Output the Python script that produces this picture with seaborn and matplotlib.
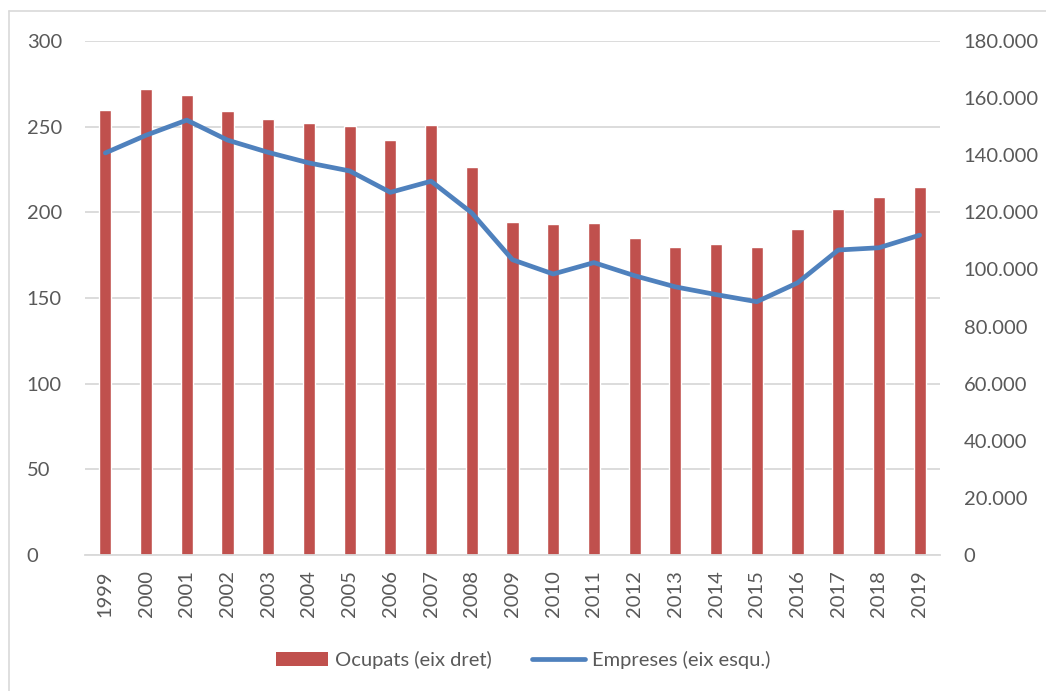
import numpy as np
import pandas as pd
import seaborn as sns
import matplotlib.pyplot as plt
from matplotlib.lines import Line2D
from matplotlib.patches import Patch
from matplotlib.ticker import FuncFormatter

years = [str(y) for y in range(1999, 2020)]
ocupats = [259.6, 271.8, 268.5, 259.0, 254.7, 252.4, 250.4, 242.5, 251.2, 226.7,
           194.3, 192.9, 193.8, 185.3, 180.0, 181.4, 180.0, 190.0, 202.2, 208.8, 215.0]
empreses = [140800, 147000, 152300, 145300, 141000, 137300, 134500, 127000, 130900, 119800,
            103400, 98400, 102400, 97800, 93900, 91200, 88700, 95300, 106800, 107600, 112000]

bar_color = '#C0504D'
line_color = '#4F81BD'
text_color = '#595959'
grid_color = '#D9D9D9'
fs = 14.5

sns.set_style('white')
plt.rcParams['font.family'] = ['Lato', 'DejaVu Sans']

df = pd.DataFrame({'year': years, 'ocupats': ocupats, 'empreses': empreses})
df['pos'] = np.arange(len(df))

fig = plt.figure(figsize=(10.46, 6.91), dpi=100)
ax = fig.add_axes([85 / 1046, 1 - 555 / 691, (940 - 85) / 1046, (555 - 41) / 691])

sns.barplot(data=df, x='year', y='ocupats', color=bar_color, saturation=1,
            width=0.3, ax=ax, zorder=2)
ax.set_ylim(0, 300)
ax.set_yticks(range(0, 301, 50))
ax.set_xlim(-0.5, len(years) - 0.5)
ax.yaxis.grid(True, color=grid_color, linewidth=1.3, zorder=0)
ax.set_axisbelow(True)
for s in ['top', 'left', 'right']:
    ax.spines[s].set_visible(False)
ax.spines['bottom'].set_color(grid_color)
ax.spines['bottom'].set_linewidth(1.3)
ax.set_xlabel('')
ax.set_ylabel('')
ax.tick_params(axis='x', rotation=90, labelsize=fs, colors=text_color, length=0, pad=11)
ax.tick_params(axis='y', labelsize=fs, colors=text_color, length=0, pad=42)
for lbl in ax.get_yticklabels():
    lbl.set_horizontalalignment('left')

ax2 = ax.twinx()
sns.lineplot(data=df, x='pos', y='empreses', color=line_color, linewidth=3.4, ax=ax2,
             solid_joinstyle='round', solid_capstyle='round')
ax2.set_ylim(0, 180000)
ax2.set_yticks(range(0, 180001, 20000))
ax2.yaxis.set_major_formatter(FuncFormatter(lambda v, p: f'{int(v):,}'.replace(',', '.')))
ax2.set_xlim(-0.5, len(years) - 0.5)
for s in ax2.spines.values():
    s.set_visible(False)
ax2.set_ylabel('')
ax2.set_xlabel('')
ax2.tick_params(axis='y', labelsize=fs, colors=text_color, length=0, pad=17)

handles = [Patch(facecolor=bar_color, edgecolor='none'),
           Line2D([0], [0], color=line_color, linewidth=3.4)]
fig.legend(handles, ['Ocupats (eix dret)', 'Empreses (eix esqu.)'], loc='center',
           bbox_to_anchor=(0.5, 1 - 660 / 691), ncol=2, frameon=False, fontsize=fs,
           labelcolor=text_color, handlelength=2.6, handletextpad=0.35, columnspacing=2.0)

# chart border
fig.add_artist(Line2D([8.5 / 1046, 8.5 / 1046], [1 - 11 / 691, 0], color=grid_color,
                      linewidth=1.2, transform=fig.transFigure))
fig.add_artist(Line2D([8.5 / 1046, 1], [1 - 11 / 691, 1 - 11 / 691], color=grid_color,
                      linewidth=1.2, transform=fig.transFigure))

fig.savefig('out.png', dpi=100)
